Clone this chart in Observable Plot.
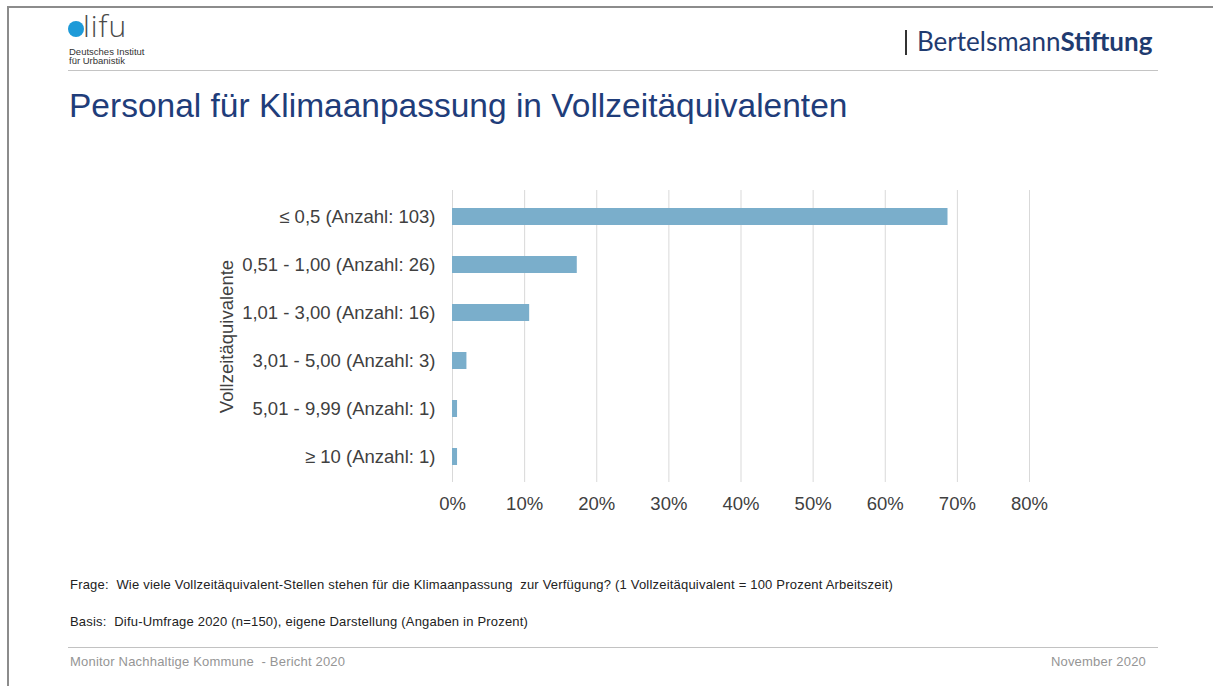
<!DOCTYPE html>
<html>
<head>
<meta charset="utf-8">
<script src="https://cdn.jsdelivr.net/npm/d3@7"></script>
<script src="https://cdn.jsdelivr.net/npm/@observablehq/plot@0.6"></script>
<style>
  html, body { margin: 0; padding: 0; background: #fff; }
  body { width: 1213px; height: 686px; position: relative; overflow: hidden; font-family: "Liberation Sans", Arial, sans-serif; }
  .abs { position: absolute; white-space: nowrap; }
  #frame { left: 7px; top: 6px; width: 1300px; height: 800px; border-top: 2px solid #8c8c8c; border-left: 2px solid #8c8c8c; }
  #dot { left: 68px; top: 21px; width: 16px; height: 16px; border-radius: 50%; background: #1d9ad8; }
  #lifu { left: 83px; top: 9px; font-family: "Open Sans", sans-serif; font-weight: 300; font-size: 30px; letter-spacing: 1px; color: #4a4a4a; line-height: 34px; }
  .inst { left: 69px; font-size: 9.5px; color: #333; line-height: 10px; }
  #hline { left: 68px; top: 70px; width: 1090px; height: 1px; background: #c4c4c4; }
  #bbar { left: 905px; top: 30px; width: 2px; height: 25px; background: #333; }
  #bst { left: 917px; top: 25px; font-family: Lato, "Open Sans", sans-serif; font-size: 26px; color: #1f3b70; line-height: 32px; }
  #bst b { font-weight: 700; }
  #title { left: 69px; top: 86px; font-size: 33.5px; color: #1f3d7a; line-height: 40px; }
  #chart { left: 0; top: 170px; }
  .foot { left: 70px; font-size: 13px; letter-spacing: 0.2px; color: #222; line-height: 14px; }
  #fline { left: 68px; top: 647px; width: 1090px; height: 1px; background: #c2c2c2; }
  .gray { color: #959595; }
</style>
</head>
<body>
<div id="frame" class="abs"></div>
<div id="dot" class="abs"></div>
<div id="lifu" class="abs">lifu</div>
<div class="abs inst" style="top:47px">Deutsches Institut</div>
<div class="abs inst" style="top:56px">für Urbanistik</div>
<div id="hline" class="abs"></div>
<div id="bbar" class="abs"></div>
<div id="bst" class="abs">Bertelsmann<b>Stiftung</b></div>
<div id="title" class="abs">Personal für Klimaanpassung in Vollzeitäquivalenten</div>
<div id="chart" class="abs"></div>
<div class="abs foot" style="top:578px">Frage:&nbsp;&nbsp;Wie viele Vollzeitäquivalent-Stellen stehen für die Klimaanpassung&nbsp; zur Verfügung? (1 Vollzeitäquivalent = 100 Prozent Arbeitszeit)</div>
<div class="abs foot" style="top:615px">Basis:&nbsp;&nbsp;Difu-Umfrage 2020 (n=150), eigene Darstellung (Angaben in Prozent)</div>
<div id="fline" class="abs"></div>
<div class="abs foot gray" style="top:655px">Monitor Nachhaltige Kommune&nbsp; - Bericht 2020</div>
<div class="abs foot gray" style="top:655px; left:auto; right:67px">November 2020</div>
<script>
const categories = [
  "≤ 0,5 (Anzahl: 103)",
  "0,51 - 1,00 (Anzahl: 26)",
  "1,01 - 3,00 (Anzahl: 16)",
  "3,01 - 5,00 (Anzahl: 3)",
  "5,01 - 9,99 (Anzahl: 1)",
  "≥ 10 (Anzahl: 1)"
];
const values = [68.7, 17.3, 10.7, 2.0, 0.7, 0.7];
const xTicks = [0, 10, 20, 30, 40, 50, 60, 70, 80];
const axisLabel = "Vollzeitäquivalente";

const data = categories.map((c, i) => ({cat: c, value: values[i]}));

const chart = Plot.plot({
  width: 1213,
  height: 350,
  marginTop: 20,
  marginBottom: 38,
  marginLeft: 452,
  marginRight: 184,
  style: {fontFamily: "'Liberation Sans', Arial, sans-serif", fontSize: "18.5px", color: "#404040", background: "transparent"},
  x: {domain: [0, 80], label: null},
  y: {domain: categories, paddingInner: 0.65, paddingOuter: 0.325, label: null},
  marks: [
    Plot.gridX(xTicks, {stroke: "#d9d9d9", strokeOpacity: 1, strokeWidth: 1}),
    Plot.barX(data, {x: "value", y: "cat", fill: "#7aaecb"}),
    Plot.axisX({ticks: xTicks, tickSize: 0, tickPadding: 14, tickFormat: d => d + "%", label: null, fill: "#404040"}),
    Plot.axisY({tickSize: 0, tickPadding: 17, label: axisLabel, labelAnchor: "center", labelOffset: 233, fill: "#404040"})
  ]
});
document.getElementById("chart").appendChild(chart);
</script>
</body>
</html>
